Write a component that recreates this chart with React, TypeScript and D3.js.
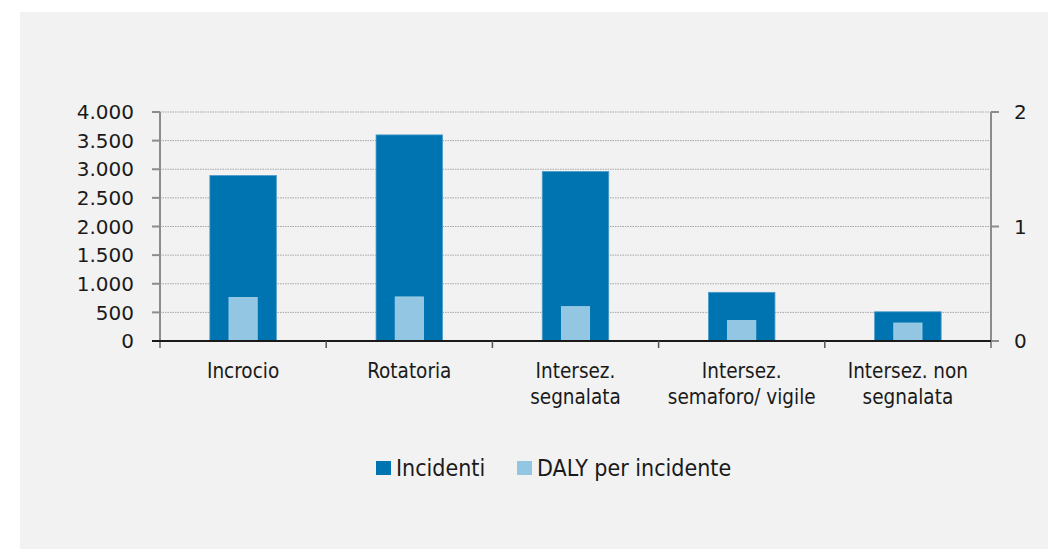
import React from 'react';
import * as d3 from 'd3';

const categories = [
  ['Incrocio'],
  ['Rotatoria'],
  ['Intersez.', 'segnalata'],
  ['Intersez.', 'semaforo/ vigile'],
  ['Intersez. non', 'segnalata'],
];
const incidenti = [2890, 3600, 2960, 850, 510];
const dalyPerIncidente = [0.38, 0.385, 0.3, 0.178, 0.157];
const leftTicks = [0, 500, 1000, 1500, 2000, 2500, 3000, 3500, 4000];
const rightTicks = [0, 1, 2];

const W = 1048,
  H = 549;
const x0 = 160,
  x1 = 991,
  yTop = 112,
  yBot = 341;
const darkColor = '#0074b0';
const lightColor = '#92c6e2';
const labelFont = '"DejaVu Sans Condensed", sans-serif';
const tickFont = '"DejaVu Sans", Verdana, sans-serif';

export default function App() {
  const idx = categories.map((_, i) => i);
  const xScale = d3.scaleBand<number>().domain(idx).range([x0, x1]).padding(0);
  const yLeft = d3.scaleLinear().domain([0, 4000]).range([yBot, yTop]);
  const yRight = d3.scaleLinear().domain([0, 2]).range([yBot, yTop]);
  const bw = xScale.bandwidth();
  const darkW = bw * 0.4,
    lightW = bw * 0.17;
  const fmt = (v: number) => (v >= 1000 ? d3.format(',')(v).replace(/,/g, '.') : String(v));

  return (
    <svg width={W} height={H} style={{ position: 'absolute', left: 0, top: 0 }}>
      <rect x={20} y={12} width={W - 20} height={H - 12} fill="#f2f2f2" />

      {/* gridlines */}
      {leftTicks.slice(1).map((t) => (
        <line key={'g' + t} x1={x0} x2={x1} y1={yLeft(t)} y2={yLeft(t)} stroke="#a6a6a6" strokeWidth={1} strokeDasharray="1.5,1" />
      ))}

      {/* bars */}
      {incidenti.map((v, i) => {
        const cx = xScale(i)! + bw / 2;
        return (
          <g key={'b' + i}>
            <rect x={cx - darkW / 2} y={yLeft(v)} width={darkW} height={yBot - yLeft(v)} fill={darkColor} stroke="#4c9ac8" strokeWidth={0.8} />
            <rect
              x={cx - lightW / 2}
              y={yRight(dalyPerIncidente[i])}
              width={lightW}
              height={yBot - yRight(dalyPerIncidente[i])}
              fill={lightColor}
              stroke="#a9d2e8"
              strokeWidth={0.8}
            />
          </g>
        );
      })}

      {/* left axis */}
      <line x1={x0} x2={x0} y1={yTop} y2={yBot + 7} stroke="#8c8c8c" strokeWidth={2} />
      {leftTicks.map((t) => (
        <g key={'l' + t}>
          <line x1={x0 - 8} x2={x0} y1={yLeft(t)} y2={yLeft(t)} stroke="#8c8c8c" strokeWidth={2} />
          <text x={134} y={yLeft(t)} dy="0.36em" textAnchor="end" fontFamily={tickFont} fontSize={20} fill="#1a1a1a">
            {fmt(t)}
          </text>
        </g>
      ))}

      {/* right axis */}
      <line x1={x1} x2={x1} y1={yTop} y2={yBot + 7} stroke="#8c8c8c" strokeWidth={2} />
      {rightTicks.map((t) => (
        <g key={'r' + t}>
          <line x1={x1} x2={x1 + 8} y1={yRight(t)} y2={yRight(t)} stroke="#8c8c8c" strokeWidth={2} />
          <text x={1014} y={yRight(t)} dy="0.36em" textAnchor="start" fontFamily={tickFont} fontSize={20} fill="#1a1a1a">
            {t}
          </text>
        </g>
      ))}

      {/* x axis */}
      <line x1={x0 - 8} x2={x1} y1={yBot} y2={yBot} stroke="#1a1a1a" strokeWidth={2} />
      {idx.slice(1).map((i) => (
        <line key={'t' + i} x1={xScale(i)!} x2={xScale(i)!} y1={yBot} y2={yBot + 7} stroke="#555" strokeWidth={1.5} />
      ))}
      {categories.map((lines, i) => (
        <text key={'c' + i} x={xScale(i)! + bw / 2} y={378} textAnchor="middle" fontFamily={labelFont} fontSize={20.5} fill="#1a1a1a">
          {lines.map((s, j) => (
            <tspan key={j} x={xScale(i)! + bw / 2} dy={j === 0 ? 0 : 26}>
              {s}
            </tspan>
          ))}
        </text>
      ))}

      {/* legend */}
      <rect x={376} y={461} width={15} height={14} fill={darkColor} />
      <text x={396} y={476} fontFamily={labelFont} fontSize={23} fill="#1a1a1a">
        Incidenti
      </text>
      <rect x={517} y={461} width={15} height={14} fill={lightColor} />
      <text x={537} y={476} fontFamily={labelFont} fontSize={23} fill="#1a1a1a">
        DALY per incidente
      </text>
    </svg>
  );
}
